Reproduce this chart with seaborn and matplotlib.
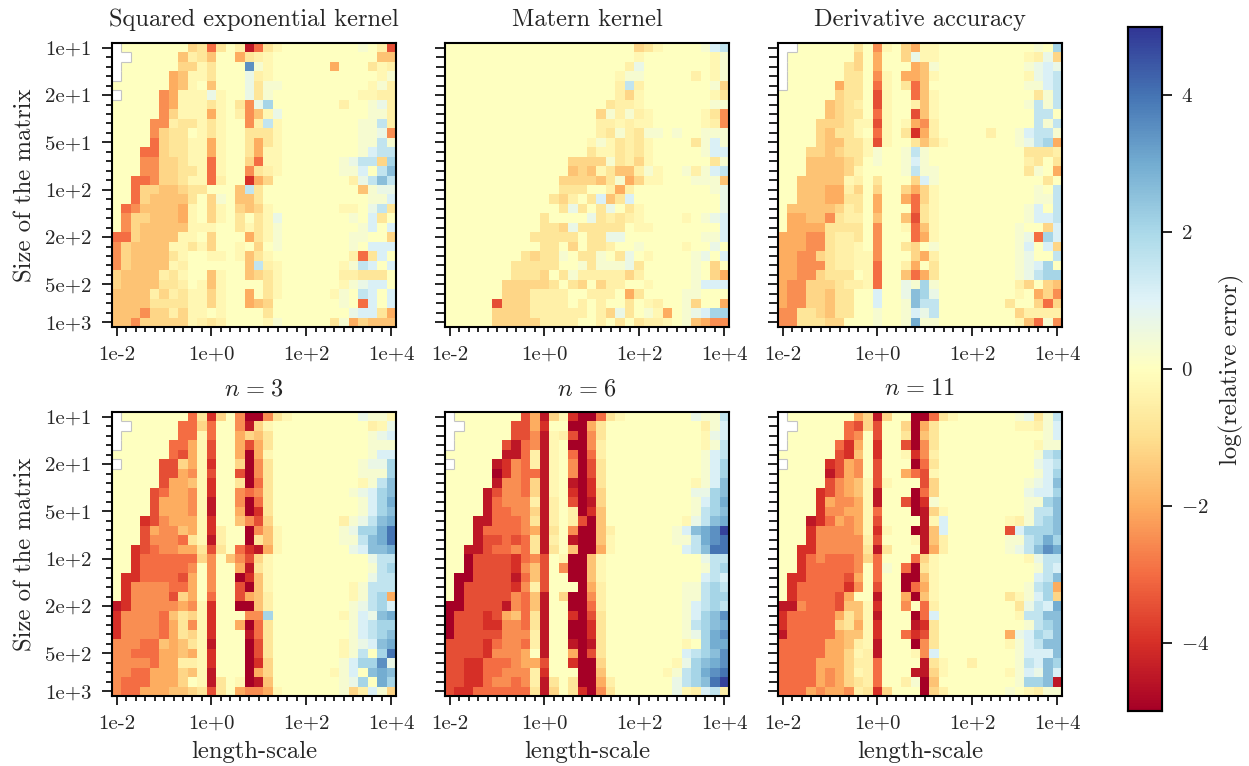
import numpy as np
import matplotlib
matplotlib.use('Agg')
import matplotlib.pyplot as plt
import seaborn as sns

level_codes = list('.abcdefghijklABCDEFGHIJ_')
level_values = [0.0, -0.25, -0.5, -0.8, -1.2, -1.6, -2.0, -2.5, -3.0, -3.5, -4.0, -4.5, -5.0,
                0.3, 0.7, 1.1, 1.6, 2.1, 2.6, 3.0, 3.5, 4.0, 4.8, np.nan]

se_kernel = [
    "_.......dc hc.bkhca.. ......A.bi",
    "__.....ebc e..fcba... ........ee",
    "_......dda c...HAa... ...f...cab",
    "_.....feaa c...Bba... ........aA",
    "......fea. e...BcAA.. .......aAb",
    "_....gfaaa Ba..BcA... ......aabb",
    ".....gfaaa ca.cgBE... ....b..ABb",
    ".....gdaaa fa.bgeaB.. .......AAb",
    "....ggbcca ca..gbDa.. ......AADb",
    "....gdcc.a ca..ccca.. ......AABg",
    "....hdccaa fa..cfca.. ......AADA",
    "...hhdccaa fa..cfaa.. ......ACDD",
    "...ggddcaa ha..dhaa.. ....ABDDdE",
    "...ggddcca ha..gcba.. ....AAC.DF",
    "..hhgddcaa hb..jfd... .....bBDFD",
    "..hddeedcc ...eDc.... ......eABB",
    "..hdeeeec. dA.eec.... .......AAC",
    ".hgeeeefa. da.deda... ....aa.BDc",
    ".gddeeefa. da.c.caB.. .....A.Cc.",
    ".gdeeeeeaa a..cacaA.. ......AC.C",
    "hhdeeeeaa. d...fcaA.. .....AA..d",
    "gdeeeeaaca d..a.d.A.. .....A.CCC",
    "gdeeeeca.. aa.aeca... .....bhcC.",
    "gdeeeeab.. ....eDba.. ....aADC.C",
    "deeeebca.. ea..edca.. ....bbccc.",
    "deeeeccb.a ea....ca.. ....aABCC.",
    "eeeebdbcaa da..f.ca.. ...aA.DC.C",
    "eeeeccccaa da..fed... ....A.hC.C",
    "eeegddbdaa .a....c... .....BCCcf",
    "eegdddddab cb....aA.. ...cAfdeee",
]

matern_kernel = [
    ".......... .......... dca....ACD",
    ".......... .......... a.......aA",
    ".......... .........b B.......aA",
    ".......... ........aA A.....b.aA",
    ".......... ........bD b.......Ad",
    ".......... ........bd a.......ac",
    ".......... .......cbb a.......AA",
    ".......... ......dAbA ba.....acg",
    ".......... ......bbab aa.....abg",
    ".......... ......bcAb cAA.A..AAA",
    ".......... .....aAacb ca....cACA",
    ".......... .....caacb ca.....ACC",
    ".......... ...ddddAcb da......cA",
    ".......... ...edeacee bAa..AbACD",
    ".......... ..ddddecAf daa...AAAe",
    ".......... ..ccc..bfb ........AB",
    ".......... .cdb.cCecC .........B",
    ".......... ..cBc.cB.c a........B",
    ".......... c....Bcbcb a....a.ABC",
    ".......... ccdBccccc. aa.......C",
    ".........c cccc.ccBB. .......AAC",
    ".......... cc.d.ccb.. A....a..B.",
    "........cd ccA.ccA.cB .a....AB.C",
    ".......ccc cc..AcAAAB c.....A.d.",
    ".......ccc d.cAbbbbbd b.....A.df",
    "......dddd dc.cd.dbb. .a....ACCC",
    "......dddb bbb..bbb.f c....AA...",
    ".....idddb bbb.b.b..c .ab..Ad..f",
    ".....ddddb bbbbb.bdBc .Aaf.ABCEE",
    ".....ddddd bbbb..b.c. cbba.Aefgg",
]

derivative = [
    "__......c. ga.dfaa... .......A.E",
    "_.......d. f..dBaa... ......abBd",
    "_......cd. f...feA... ......ABCB",
    "_......cc. ga.ffea... ......aBCD",
    "_.....fcc. ha.che.... ......AACD",
    "......dcc. ia..hea... .......cAD",
    ".....edcb. ia..bea... ......ADAD",
    ".....edcc. ha..iea... .......DD.",
    "....dddcaa ia.afgb... .......DAD",
    "....decca. ha.cjfb... ..b..ACDDA",
    "....deecca ia..ceca.. .....ABDEf",
    "...ddedcca A..ADA.... ......cccb",
    "...eeeedc. A..ACA.... ......bc.c",
    "...eeeeda. ...ADAA... ......cA.f",
    "..eeeeeab. c...dCA... ........c.",
    "..eeeffbd. d..dfda... .......A.D",
    "..eeeffcc. f..fhda... .......AAD",
    ".eeeeedbc. f...hca... ......AC.D",
    ".ffeegcbb. e..eica... ......ACCD",
    ".ffffcccc. g..ahea... .....A..dC",
    "fffggcbbc. g...hfa... .....ABhEC",
    "fffggcbba. g..cd.A... .....AC.Cd",
    "ffggdcbbaa g...dfb... .....AB..D",
    "ffgggcbbaa h..bf.c... .....ABCE.",
    "ffggdccc.a h..ehfc... .....ABDEE",
    "fggdddcbba h..BAEA... .....bd.de",
    "fggddecc.. C..BFEB... .....a.fdg",
    "fggddecc.. C..AFDD... ....c..dhd",
    "ggccdecc.. A..ACBD... .....dbbbb",
    "ggcccdd... A..AGAA... .....aehAg",
]

n3 = [
    "_.......hc jd.gllgca. ......BAAa",
    "__.....hhd h..gkda... .......baB",
    "_......hha h..fdec... .......ABC",
    "_.....hhfa i..fifc... .......AAA",
    "......hifa i..flfa... .......ACC",
    "_....iidfa j..dlgc... ......ABBE",
    ".....iifga i..ilgc... ......AAAE",
    ".....iffea j..clhc... ......aADF",
    "....ihffga j..ghgc... .....ABCEF",
    "....ifffga k..glhc... ......ACEG",
    "....ifffga k..fljc... ......ACEF",
    "...jigfffa j..egid... ....bABDFG",
    "...ifggefa jb..lgea.. ....ABEEGI",
    "...iggghca kb..lcea.. ....AADFGI",
    "..jihggffc ic.hjkfa.. .....BCFFG",
    "..jhhhhhhd g.egida... .......BDD",
    "..jhhhhhg. g..fkca... .......ADE",
    ".jjhhhhif. g..ljea... .......BDD",
    ".jgggghhf. g..ilea... .....aADDD",
    ".jggggidf. h..ifeb... .....aADEf",
    "kjgggggfga j..lleb... .....ABDEC",
    "jgggghecda j...ggE... ....aACBFG",
    "jgggghfcga j..flhc... .....ACDEE",
    "jgggghfcda j...khc... .....ACDEF",
    "ggghhefeca k...lic... ....aABCFG",
    "gghhhffefa j...lic... ....aAD.EI",
    "gggghffbba j...ljd... ....ACEEHB",
    "gghhfffdea k...lfd... ...aAC.FGF",
    "ghhhfffd.a kc.alke... ....ABE.GE",
    "ghhfffeedc ic.fggfa.. ....AdbCAd",
]

n6 = [
    "_.......if kdajllhca. ......BAAD",
    "__.....iif j..llfc... .......bAC",
    "_......iig kabilgc... .......aBC",
    "_.....ikhg ka.llgb... .......aAD",
    "......kkhb ka.hlhb... .......ACD",
    "_....kjghb ka.glic... .......ACE",
    ".....ljghh ka.glic... .......ACE",
    ".....kgghd ka.kljc... ......aACF",
    "....kigghd ka.jljd... ......BBEF",
    "....khgggb kb.ilkd... ......ACEG",
    "....khhggd kb.blje... ......ADEF",
    "...kkhhhgc kb.bile... .....aBDFG",
    "...khhhhgf kc.glleb.. ....ACFGHJ",
    "...kiihihc kb.kllea.. ....AADGHI",
    "..kkihhghc kc.ellfa.. .....CDFII",
    "..liiiijhg i.allea... .......BDD",
    "..liiiijge i.gllea... .......ADE",
    ".lliiiikhe i..llea... .......CDC",
    ".liiiiijgb i...lfb... .....AADED",
    ".liiiiighe k.dllgb... .....AADEE",
    "lliiiikghe k..llhb... .....ACDED",
    "liiijifehc k..jlic... .....ACEFH",
    "liiijjgghc k..lljc... .....ADEFG",
    "liiiiigggb k..lljc... .....ABEGH",
    "iiiijhgghb k..klkc... .....a.EGG",
    "iiiijgggf. k..flic... .....CDEFH",
    "iijjhhhgff i..jlld... ....aBEFGH",
    "iijjhhgggb j...lle... ...aADEGHI",
    "iijjhgghgb kc.cllfb.. ....BDEFIJ",
    "ijjhhhhhhc kd.cjlgc.. ....BabCDb",
]

n11 = [
    "_.......fd kd..llhca. .....ABcAD",
    "__.....hid i..dlfc... .....aabAC",
    "_......hg. i..clec... ........AC",
    "_.....hjf. j..ilgc... .......aAA",
    "......ije. j..ajgb... .......ADE",
    "_....jifg. i...lhc... .......BCD",
    ".....kifg. i..fhia... .......ACE",
    ".....igfea ia...id... ......ABCF",
    "....jigfea k...lhd... ......BCCE",
    "....jfggfa k..iljA... ......AAEF",
    "....jggffa h...lkda.. ......ADDF",
    "...kjhfgfa i....kaC.. ....abADEF",
    "...jggggfa ja..lkeC.. ....iCEEEF",
    "...jgggggb i...akeb.. ....AADEGE",
    "..jjgggggc kc...kfb.. ....ABDFHG",
    "..jhghhhgd h...hda... ......aBDD",
    "..jhhhhhg. hA.hlca... .......ADC",
    ".jjhhhhif. h..llea... .......CDF",
    ".jhhhhhjg. i..lhfa... ......ADEf",
    ".jhhhhif.. k..flea... ....caACEd",
    "kkghhhieea j..g.hb... .....cBDCG",
    "jhhhhhfcea k...lhC... .....aDDFF",
    "jhhhhhdcfa j...kjc... ......ADEF",
    "khhhhhfeea j..hjic... ....fBCEDF",
    "hhhhhffeba k...lgc... ....aACDFF",
    "hhhhhffdab k...agC... .....ACCCF",
    "hhhhfffdbb h....kca.. b....ADCFE",
    "hhhhfgfdab h...kkda.. ....aACBFC",
    "hhhhfgfdcb h..bAle... .....AEEFk",
    "hhhfgffgbc jd...ldb.. ....A.abAA",
]

titles = ['Squared exponential kernel', 'Matern kernel', 'Derivative accuracy',
          r'$n\hspace{0.1}=\hspace{0.1}3$', r'$n\hspace{0.1}=\hspace{0.1}6$',
          r'$n\hspace{0.1}=\hspace{0.1}11$']
panels = [se_kernel, matern_kernel, derivative, n3, n6, n11]
x_labels = ['1e-2', '1e+0', '1e+2', '1e+4']
x_major = [0, 10, 20, 29]
y_labels = ['1e+1', '2e+1', '5e+1', '1e+2', '2e+2', '5e+2', '1e+3']
y_major = [0, 5, 10, 15, 20, 25, 29]

lookup = dict(zip(level_codes, level_values))


def decode(rows):
    return np.array([[lookup[c] for c in r.replace(' ', '')] for r in rows])


def outline_missing(ax, grid):
    # thin grey edge between missing cells and the rest
    for r, c in zip(*np.where(np.isnan(grid))):
        if c + 1 < 30 and not np.isnan(grid[r, c + 1]):
            ax.vlines(c + 1, r, r + 1, color='#c4c4c4', lw=0.8)
        if r + 1 < 30 and not np.isnan(grid[r + 1, c]):
            ax.hlines(r + 1, c, c + 1, color='#c4c4c4', lw=0.8)
        if r > 0 and not np.isnan(grid[r - 1, c]):
            ax.hlines(r, c, c + 1, color='#c4c4c4', lw=0.8)


sns.set_theme(style='ticks')
plt.rcParams['font.family'] = 'cmr10'
plt.rcParams['mathtext.fontset'] = 'cm'
plt.rcParams['axes.unicode_minus'] = False

W, H = 1249, 766
fig = plt.figure(figsize=(W / 100, H / 100), dpi=100)


def px_axes(left, top, right, bottom):
    return fig.add_axes([left / W, 1 - bottom / H, (right - left) / W, (bottom - top) / H])


lefts = [112, 445, 778]
tops = [43, 412]
cax = px_axes(1128, 27, 1162, 711)

for i, rows in enumerate(panels):
    col = i % 3
    row = i // 3
    ax = px_axes(lefts[col], tops[row], lefts[col] + 284, tops[row] + 284)
    grid = decode(rows)
    sns.heatmap(grid, ax=ax, cmap='RdYlBu', vmin=-5, vmax=5,
                cbar=i == 0, cbar_ax=cax if i == 0 else None,
                xticklabels=False, yticklabels=False)
    outline_missing(ax, grid)
    for s in ax.spines.values():
        s.set_visible(True)
        s.set_linewidth(1.5)
        s.set_color('black')

    ax.set_xticks(np.array(x_major) + 0.5)
    ax.set_xticklabels(x_labels, fontsize=15)
    ax.set_xticks(np.arange(30) + 0.5, minor=True)
    ax.set_yticks(np.array(y_major) + 0.5)
    ax.set_yticks(np.arange(30) + 0.5, minor=True)
    if col == 0:
        ax.set_yticklabels(y_labels, fontsize=15)
        ax.set_ylabel('Size of the matrix', fontsize=17.8, labelpad=6)
        minor_len = 4.3
    else:
        ax.set_yticklabels([])
        minor_len = 6.5
    ax.tick_params(axis='x', which='major', length=6.5, width=1.4, pad=7)
    ax.tick_params(axis='x', which='minor', length=3.8, width=1.4)
    ax.tick_params(axis='y', which='major', length=7, width=1.4, pad=8, rotation=0)
    ax.tick_params(axis='y', which='minor', length=minor_len, width=1.4)
    ax.set_title(titles[i], fontsize=17.6, pad=12)
    if row == 1:
        ax.set_xlabel('length-scale', fontsize=17.8, labelpad=6)

cax.set_yticks([-4, -2, 0, 2, 4])
cax.set_yticklabels(['$-4$', '$-2$', '$0$', '$2$', '$4$'], fontsize=15)
cax.tick_params(axis='y', length=7, width=1.4, pad=7)
cax.set_ylabel('log(relative error)', fontsize=17.8, labelpad=7)
for s in cax.spines.values():
    s.set_visible(True)
    s.set_linewidth(1.5)
    s.set_color('black')

fig.savefig('out.png', dpi=100)
